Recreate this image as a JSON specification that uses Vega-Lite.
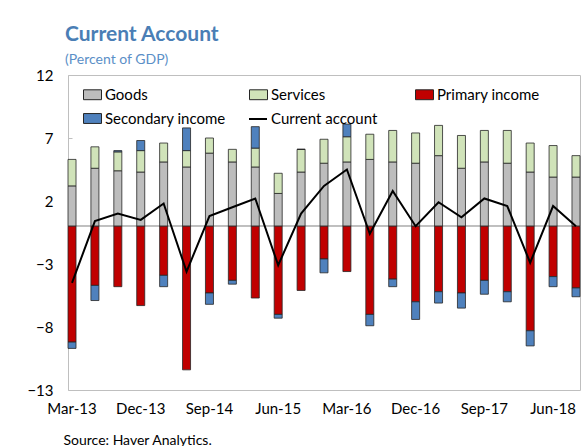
{
  "$schema": "https://vega.github.io/schema/vega-lite/v6.json",
  "width": 512,
  "height": 315,
  "autosize": {"type": "none"},
  "padding": {"left": 68, "top": 75, "right": 6, "bottom": 56},
  "background": "white",
  "config": {
    "font": "Lato",
    "view": {"stroke": "#bfbfbf", "strokeWidth": 1}
  },
  "title": {
    "text": "Current Account",
    "subtitle": "(Percent of GDP)",
    "anchor": "start",
    "frame": "group",
    "dx": -3,
    "offset": 1,
    "font": "Lato",
    "fontSize": 21,
    "fontWeight": "bold",
    "color": "#4a7eb5",
    "subtitleFont": "Lato",
    "subtitleFontSize": 14,
    "subtitleColor": "#5b8fc7",
    "subtitlePadding": 8
  },
  "data": {
    "values": [
      {"q": "Mar-13", "Goods": 3.2, "Services": 2.1, "Primary income": -9.2, "Secondary income": -0.5, "Current account": -4.5},
      {"q": "Jun-13", "Goods": 4.6, "Services": 1.7, "Primary income": -4.7, "Secondary income": -1.2, "Current account": 0.4},
      {"q": "Sep-13", "Goods": 4.4, "Services": 1.5, "Primary income": -4.8, "Secondary income": 0.1, "Current account": 1.0},
      {"q": "Dec-13", "Goods": 4.3, "Services": 1.7, "Primary income": -6.3, "Secondary income": 0.8, "Current account": 0.5},
      {"q": "Mar-14", "Goods": 5.1, "Services": 1.5, "Primary income": -3.9, "Secondary income": -0.9, "Current account": 1.8},
      {"q": "Jun-14", "Goods": 4.7, "Services": 1.3, "Primary income": -11.4, "Secondary income": 1.8, "Current account": -3.6},
      {"q": "Sep-14", "Goods": 5.8, "Services": 1.2, "Primary income": -5.3, "Secondary income": -0.9, "Current account": 0.8},
      {"q": "Dec-14", "Goods": 5.1, "Services": 1.0, "Primary income": -4.3, "Secondary income": -0.3, "Current account": 1.5},
      {"q": "Mar-15", "Goods": 4.7, "Services": 1.5, "Primary income": -5.7, "Secondary income": 1.7, "Current account": 2.2},
      {"q": "Jun-15", "Goods": 2.6, "Services": 1.6, "Primary income": -7.0, "Secondary income": -0.3, "Current account": -3.1},
      {"q": "Sep-15", "Goods": 4.3, "Services": 1.8, "Primary income": -5.1, "Secondary income": 0.0, "Current account": 1.0},
      {"q": "Dec-15", "Goods": 5.0, "Services": 1.9, "Primary income": -2.6, "Secondary income": -1.1, "Current account": 3.2},
      {"q": "Mar-16", "Goods": 5.1, "Services": 2.0, "Primary income": -3.6, "Secondary income": 1.0, "Current account": 4.5},
      {"q": "Jun-16", "Goods": 5.3, "Services": 2.0, "Primary income": -7.0, "Secondary income": -0.9, "Current account": -0.6},
      {"q": "Sep-16", "Goods": 5.1, "Services": 2.5, "Primary income": -4.2, "Secondary income": -0.6, "Current account": 2.8},
      {"q": "Dec-16", "Goods": 5.0, "Services": 2.4, "Primary income": -6.0, "Secondary income": -1.4, "Current account": 0.0},
      {"q": "Mar-17", "Goods": 5.6, "Services": 2.4, "Primary income": -5.2, "Secondary income": -0.9, "Current account": 1.9},
      {"q": "Jun-17", "Goods": 4.6, "Services": 2.6, "Primary income": -5.3, "Secondary income": -1.2, "Current account": 0.7},
      {"q": "Sep-17", "Goods": 5.1, "Services": 2.5, "Primary income": -4.3, "Secondary income": -1.1, "Current account": 2.2},
      {"q": "Dec-17", "Goods": 5.0, "Services": 2.6, "Primary income": -5.2, "Secondary income": -0.8, "Current account": 1.6},
      {"q": "Mar-18", "Goods": 4.3, "Services": 2.3, "Primary income": -8.3, "Secondary income": -1.2, "Current account": -2.9},
      {"q": "Jun-18", "Goods": 3.9, "Services": 2.5, "Primary income": -4.0, "Secondary income": -0.8, "Current account": 1.6},
      {"q": "Sep-18", "Goods": 3.9, "Services": 1.7, "Primary income": -4.9, "Secondary income": -0.7, "Current account": 0.0}
    ]
  },
  "encoding": {
    "x": {
      "field": "q",
      "type": "ordinal",
      "sort": null,
      "scale": {"paddingInner": 0.65, "paddingOuter": 0},
      "axis": {
        "values": ["Mar-13", "Dec-13", "Sep-14", "Jun-15", "Mar-16", "Dec-16", "Sep-17", "Jun-18"],
        "labelAngle": 0,
        "ticks": false,
        "domain": false,
        "labelPadding": 11,
        "labelFontSize": 15,
        "labelColor": "#000000",
        "labelFont": "Lato",
        "title": "Source: Haver Analytics.",
        "titleAnchor": "start",
        "titleAlign": "left",
        "titleBaseline": "top",
        "titleX": -5,
        "titleY": 43,
        "titleFont": "Lato",
        "titleFontSize": 14,
        "titleFontWeight": "normal",
        "titleColor": "#000000"
      }
    }
  },
  "layer": [
    {
      "mark": {"type": "rule", "color": "#bfbfbf", "strokeWidth": 1},
      "encoding": {"y": {"datum": 0, "type": "quantitative"}, "x": null}
    },
    {
      "transform": [
        {"fold": ["Goods", "Services", "Primary income", "Secondary income"], "as": ["component", "value"]},
        {"calculate": "indexof(['Goods','Services','Primary income','Secondary income'], datum.component)", "as": "stackorder"}
      ],
      "mark": {"type": "bar", "stroke": "#262626", "strokeWidth": 0.8},
      "encoding": {
        "y": {
          "field": "value",
          "type": "quantitative",
          "stack": "zero",
          "scale": {"domain": [-13, 12], "nice": false, "zero": false},
          "axis": {
            "values": [-13, -8, -3, 2, 7, 12],
            "grid": false,
            "domain": false,
            "tickSize": -4,
            "tickColor": "#bfbfbf",
            "labelPadding": 19,
            "labelFontSize": 15,
            "labelColor": "#000000",
            "labelFont": "Lato",
            "title": null
          }
        },
        "color": {
          "field": "component",
          "type": "nominal",
          "scale": {
            "domain": ["Goods", "Services", "Primary income", "Secondary income"],
            "range": ["#bdbdbd", "#d0e3b9", "#c00000", "#4f81bd"]
          },
          "legend": {
            "title": null,
            "orient": "none",
            "direction": "horizontal",
            "legendX": 15,
            "legendY": 10,
            "columns": 3,
            "gridAlign": "all",
            "columnPadding": 21,
            "rowPadding": 6,
            "symbolType": "M-1,-0.55H1V0.55H-1Z",
            "symbolSize": 324,
            "symbolStrokeColor": "#262626",
            "symbolStrokeWidth": 1,
            "symbolOpacity": 1,
            "labelFontSize": 15,
            "labelFont": "Lato",
            "labelColor": "#000000",
            "labelOffset": 3
          }
        },
        "order": {"field": "stackorder", "type": "quantitative"}
      }
    },
    {
      "mark": {"type": "line", "strokeWidth": 2},
      "encoding": {
        "y": {"field": "Current account", "type": "quantitative"},
        "stroke": {
          "datum": "Current account",
          "scale": {"range": ["#000000"]},
          "legend": {
            "title": null,
            "orient": "none",
            "legendX": 180,
            "legendY": 34,
            "symbolType": "stroke",
            "symbolSize": 324,
            "symbolStrokeWidth": 2,
            "labelFontSize": 15,
            "labelFont": "Lato",
            "labelColor": "#000000",
            "labelOffset": 3
          }
        }
      }
    }
  ]
}
